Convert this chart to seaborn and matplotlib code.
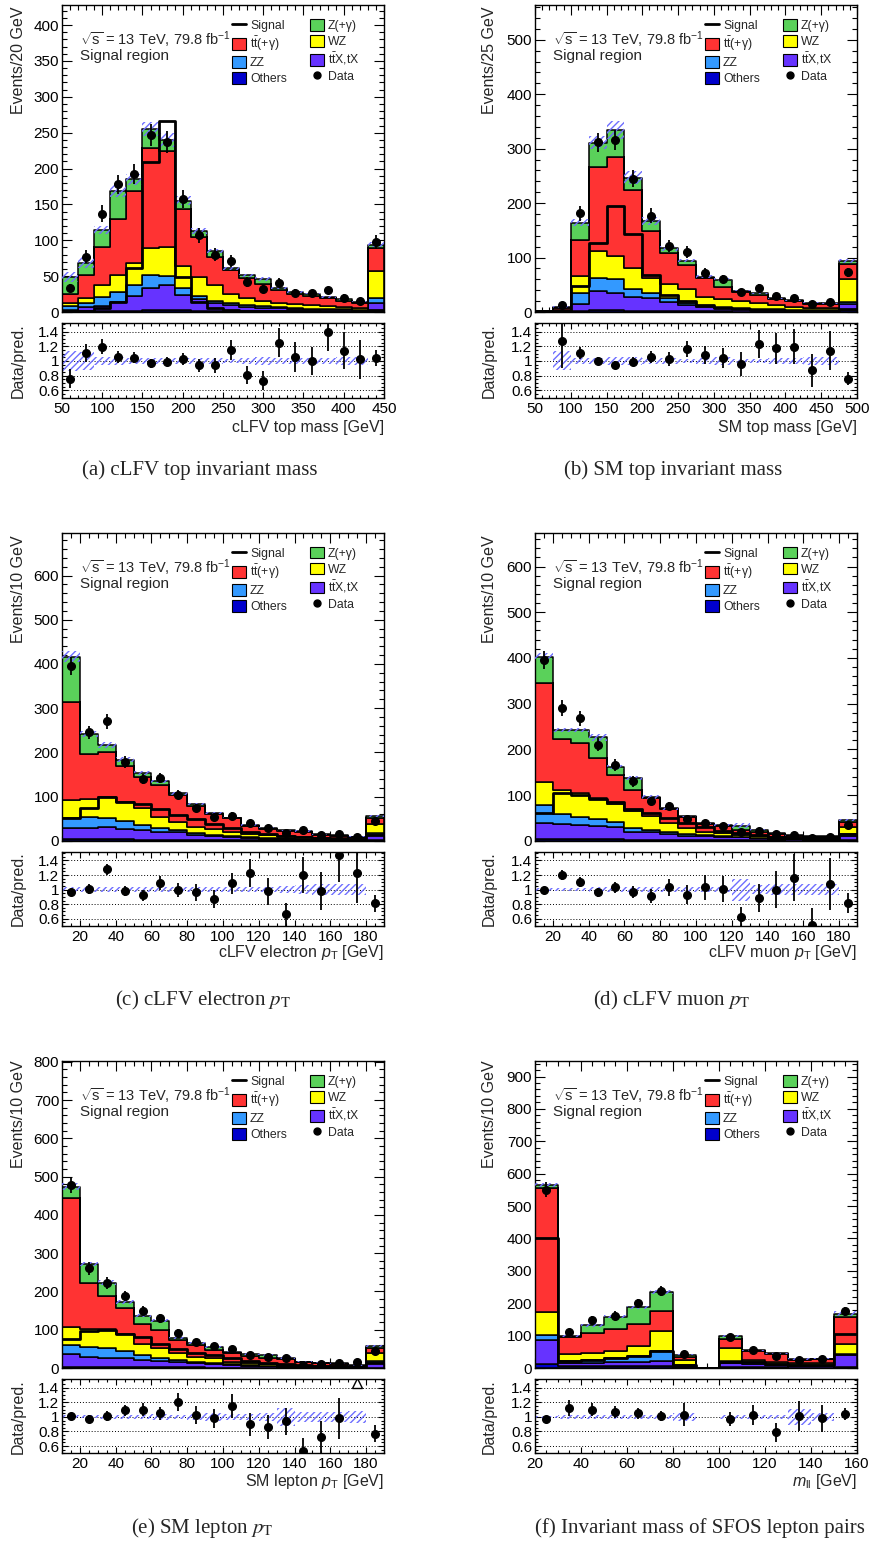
import numpy as np
import pandas as pd
import matplotlib
matplotlib.use("Agg")
import matplotlib.pyplot as plt
import seaborn as sns
from matplotlib.ticker import MultipleLocator, FixedLocator, FixedFormatter
from matplotlib.lines import Line2D
from matplotlib.patches import Patch

sns.set_theme(style="ticks")
plt.rcParams['font.family'] = ['Liberation Sans', 'DejaVu Sans']
plt.rcParams['mathtext.fontset'] = 'custom'
plt.rcParams['mathtext.rm'] = 'Liberation Sans'
plt.rcParams['mathtext.it'] = 'Liberation Sans:italic'
plt.rcParams['mathtext.bf'] = 'Liberation Sans:bold'
plt.rcParams['hatch.linewidth'] = 1.0
plt.rcParams['axes.edgecolor'] = 'black'
plt.rcParams['xtick.color'] = 'black'
plt.rcParams['ytick.color'] = 'black'

# ---------------- components (top of stack first) ----------------
comp_names = ["Z(+γ)", r"$\mathrm{t\bar{t}}$(+γ)", "WZ", "ZZ", r"$\mathrm{t\bar{t}}$X,tX", "Others"]
comp_colors = ["#5ad15a", "#ff3333", "#ffff00", "#3399ff", "#6633ff", "#0000cc"]

# ---------------- (a) cLFV top mass ----------------
edges_a = list(range(50, 451, 20))
zg_a = [24, 18, 23, 39, 17, 27, 15, 11, 9, 8, 2, 3, 7, 2, 2, 2.5, 1.5, 1.5, 1.5, 5]
tt_a = [13, 31, 53, 78, 100, 139, 135, 80, 55, 39, 34, 28, 24, 18.5, 14.5, 13, 11.5, 9, 7.5, 32]
wz_a = [4, 8, 17, 24, 30, 37, 40, 30, 26, 23, 12, 10, 7, 6, 6, 5.5, 4, 3.5, 2.5, 37]
zz_a = [5, 5, 13, 14, 16, 19, 12, 10, 5, 3, 3, 2.5, 2, 1.5, 1, 1, 1, 1, 1, 7]
ttx_a = [2, 6, 6, 12, 20, 30, 35, 21, 16, 10.5, 9, 6.5, 5, 4, 3.2, 2.8, 2.4, 2, 1.5, 12]
oth_a = [1, 1, 2, 2, 2, 3, 3, 3, 2, 1.5, 1, 1, 1, 1, 0.8, 0.7, 0.6, 0.5, 0.5, 1]
sig_a = [1, 2, 5, 14, 62, 209, 266, 49, 14, 5, 3, 2, 1.5, 1, 1, 0.8, 0.6, 0.5, 0.4, 3]
data_a = [33, 77, 137, 178, 193, 247, 237, 158, 107, 80, 71, 42, 32, 41, 27, 26, 30, 20, 15, 98]
ratio_a = [0.76, 1.11, 1.19, 1.05, 1.04, 0.97, 0.99, 1.02, 0.94, 0.94, 1.15, 0.81, 0.73, 1.25, 1.05, 1.00, 1.39, 1.14, 1.02, 1.04]
unc_a = [0.14, 0.12, 0.05, 0.05, 0.04, 0.04, 0.04, 0.04, 0.04, 0.04, 0.03, 0.04, 0.05, 0.04, 0.04, 0.04, 0.04, 0.05, 0.06, 0.04]

# ---------------- (b) SM top mass ----------------
edges_b = list(range(50, 501, 25))
zg_b = [0.5, 1, 32, 44, 50, 23, 18, 8, 8, 3, 12.5, 3, 2, 1, 1.5, 2, 2, 6]
tt_b = [0.7, 5, 66, 155, 182, 143, 87, 58, 44, 34, 23.5, 16, 15, 11, 10, 7, 6, 27]
wz_b = [0.3, 1, 31, 49, 43, 38, 28, 26, 26, 17, 14, 13, 11, 8, 6, 5, 5, 42]
zz_b = [0.2, 0.5, 21, 25, 25, 15, 9, 7, 4, 2, 1.5, 2, 2, 2, 1.5, 1, 1, 5]
ttx_b = [0.3, 1, 12, 34, 32, 26, 23, 16.5, 10.8, 8, 6.5, 4.2, 3.2, 2.4, 2, 1.5, 1.5, 11]
oth_b = [0, 0.5, 2, 4, 3, 2, 2, 1.5, 1.2, 1, 1, 0.8, 0.8, 0.6, 0.5, 0.5, 0.5, 3]
sig_b = [0, 2, 48, 126, 195, 143, 68, 32, 20, 12, 8, 5, 4, 3, 2, 1.5, 1, 6]
data_b = [0, 12, 181, 312, 316, 245, 177, 122, 110, 72, 61, 36, 44, 30, 25, 15, 18, 73]
ratio_b = [np.nan, 1.27, 1.11, 1.00, 0.94, 0.99, 1.05, 1.03, 1.16, 1.08, 1.04, 0.96, 1.23, 1.17, 1.19, 0.87, 1.14, 0.76]
unc_b = [0, 0.13, 0.04, 0.04, 0.05, 0.05, 0.04, 0.04, 0.03, 0.04, 0.05, 0.03, 0.03, 0.04, 0.04, 0.05, 0.05, 0.04]

# ---------------- (c) cLFV electron pT ----------------
edges_c = list(range(10, 191, 10))
zg_c = [103, 45, 17, 13, 9, 8, 4, 3, 2.5, 1, 2, 2.5, 2, 2.4, 2, 2, 1, 5]
tt_c = [221, 102, 101, 82, 72, 72, 60, 47.5, 33.5, 31, 18.8, 15, 12, 10.6, 7, 6, 4, 14]
wz_c = [40, 40, 47, 43, 38, 26, 19, 15, 12.5, 9, 6.4, 6, 5, 5, 3, 2.5, 2, 20.3]
zz_c = [23, 25, 22, 18, 11, 8, 5, 3.5, 3.5, 3, 2.3, 1.5, 1.5, 1, 0.5, 0.5, 0.5, 3.1]
ttx_c = [26, 26, 27, 24, 22, 18, 17, 12, 8.8, 7, 5.2, 3.8, 3, 2.5, 2.1, 1.7, 1.2, 12.6]
oth_c = [3, 3, 3, 3, 2, 2, 2, 1.5, 1.2, 1, 0.8, 0.7, 0.5, 0.5, 0.4, 0.3, 0.3, 1]
sig_c = [52, 73, 100, 88, 82, 71, 58, 48, 38, 29, 20, 15, 10, 8, 6, 4, 3, 14]
data_c = [395, 245, 270, 178, 140, 142, 104, 75, 53, 57, 41, 28, 17, 24, 14, 16, 9, 45]
ratio_c = [0.96, 1.01, 1.28, 0.98, 0.92, 1.09, 0.99, 0.96, 0.87, 1.09, 1.23, 0.98, 0.66, 1.20, 0.98, 1.47, 1.23, 0.81]
unc_c = [0.03, 0.03, 0.03, 0.03, 0.03, 0.03, 0.03, 0.03, 0.03, 0.03, 0.04, 0.04, 0.05, 0.06, 0.07, 0.07, 0.08, 0.05]

# ---------------- (d) cLFV muon pT ----------------
edges_d = list(range(10, 191, 10))
zg_d = [58, 20, 29, 46, 17, 26, 2, 2, 2, 2, 2.5, 9.6, 3.4, 2, 1, 1, 1, 3.4]
tt_d = [216, 111, 109, 86, 64, 45, 40, 31, 24, 17.5, 15, 10.4, 10, 6, 4.5, 4, 4, 11.6]
wz_d = [51, 52.5, 51.4, 47, 38.4, 39, 30, 19.5, 12, 6.5, 6, 4, 4, 3, 2.5, 2, 2, 15]
zz_d = [40, 21.5, 18.6, 15, 12.6, 7, 5.5, 3.5, 4, 2, 2, 1, 1, 1, 1, 0.5, 0.5, 4]
ttx_d = [34, 33, 30, 29, 26, 18, 16.5, 13.5, 9.8, 9, 8, 7.2, 4.4, 3.5, 2.6, 2.2, 2.2, 10]
oth_d = [4, 4, 4, 3, 3, 2, 2, 1.5, 1.2, 1, 1, 0.8, 0.6, 0.5, 0.4, 0.3, 0.3, 1]
sig_d = [60, 104, 100, 92, 85, 70, 60, 50, 39, 30, 22, 16, 12, 9, 7, 5, 4, 14]
data_d = [395, 290, 268, 210, 165, 130, 87, 75, 48, 38, 33, 20, 21, 15, 13, 5, 9, 35]
ratio_d = [0.99, 1.20, 1.11, 0.96, 1.03, 0.97, 0.91, 1.03, 0.93, 1.03, 1.01, 0.62, 0.88, 1.00, 1.16, 0.52, 1.08, 0.82]
unc_d = [0.02, 0.02, 0.02, 0.03, 0.03, 0.03, 0.04, 0.04, 0.03, 0.04, 0.04, 0.15, 0.06, 0.07, 0.07, 0.08, 0.08, 0.05]

# ---------------- (e) SM lepton pT ----------------
edges_e = list(range(10, 191, 10))
zg_e = [31, 48, 35, 17, 22, 25, 5.5, 4.5, 8.7, 4.6, 5.6, 7, 4, 1.5, 2, 2, 1, 6.5]
tt_e = [335, 121, 86, 68, 53, 47, 34, 31, 22, 22, 17, 17, 15, 10, 7.5, 6, 3, 13]
wz_e = [48, 46.3, 51, 43, 29, 25, 17, 13, 11, 5, 6, 4, 3, 2, 2, 1.5, 1, 20]
zz_e = [23.4, 26.1, 24, 20, 11, 8, 5, 4, 3, 3, 2, 1.5, 1.5, 0.5, 0.5, 0.5, 0.5, 5]
ttx_e = [33.6, 26.6, 24, 22, 19.5, 17, 14, 10.5, 9.8, 7, 5.2, 3.8, 2.9, 2.1, 1.6, 1.7, 1.2, 12]
oth_e = [3, 3, 3, 3, 2.5, 2, 2, 1.5, 1.2, 1, 0.8, 0.7, 0.6, 0.4, 0.4, 0.3, 0.3, 1]
sig_e = [76, 96, 100, 90, 82, 62, 50, 40, 33, 25, 18, 14, 10, 7, 5, 4, 3, 12]
data_e = [478, 260, 222, 188, 150, 130, 92, 68, 57, 49, 33, 29, 25, 9, 10, 12, 16, 44]
ratio_e = [1.01, 0.97, 1.01, 1.09, 1.10, 1.05, 1.20, 1.02, 0.98, 1.15, 0.90, 0.86, 0.94, 0.53, 0.72, 0.98, 2.3, 0.77]
unc_e = [0.02, 0.02, 0.03, 0.03, 0.03, 0.04, 0.03, 0.04, 0.05, 0.04, 0.04, 0.05, 0.12, 0.07, 0.07, 0.07, 0.08, 0.05]

# ---------------- (f) m_ll ----------------
edges_f = list(range(20, 161, 10))
zg_f = [10, 1.5, 22.5, 39, 50, 59, 6.9, 0, 7, 2.7, 1.5, 3, 2, 12]
tt_f = [382, 52, 63.5, 66.4, 70, 61.5, 8.5, 0, 29, 27, 27.5, 12, 13, 83]
wz_f = [70, 22.8, 22, 22.6, 31, 62.9, 15.5, 0, 41.3, 7, 6, 5, 5, 30]
zz_f = [15, 6.2, 9, 13, 18, 29.6, 5.5, 0, 6.7, 6, 2, 2, 2, 4]
ttx_f = [76, 10.5, 10, 12, 13, 17, 3, 0, 10, 9, 7, 5.5, 5.5, 35]
oth_f = [12, 5, 5, 5, 5, 5, 2, 0, 4, 3, 2, 1.5, 1.5, 4]
sig_f = [400, 21, 24, 30, 36, 52, 10, 0, 20, 18, 11, 9, 9, 105]
data_f = [550, 110, 147, 162, 200, 238, 42, 0, 96, 56, 38, 24, 27, 175]
ratio_f = [0.97, 1.12, 1.10, 1.07, 1.05, 1.01, 1.03, np.nan, 0.97, 1.02, 0.79, 1.01, 0.98, 1.04]
unc_f = [0.01, 0.03, 0.03, 0.03, 0.03, 0.03, 0.06, 0, 0.03, 0.03, 0.03, 0.11, 0.06, 0.04]

W, H = 870, 1544
fig = plt.figure(figsize=(W / 100, H / 100), dpi=100, facecolor='white')


def rect(x0, x1, ytop, ybot):
    return [x0 / W, 1 - ybot / H, (x1 - x0) / W, (ybot - ytop) / H]


def fpos(x, y):
    return x / W, 1 - y / H


HATCH_COL = '#6e6eff'


def style_axes(ax, major, minor_len):
    ax.tick_params(which='both', direction='in', top=True, right=True, width=0.8,
                   colors='black', labelsize=11)
    ax.tick_params(which='major', length=major)
    ax.tick_params(which='minor', length=minor_len)
    for s in ax.spines.values():
        s.set_linewidth(1.0)
        s.set_color('black')


def panel(col, row, edges, comps, sig, data, ratio, unc, ylim, ymaj, ymin, xmaj, xmin,
          ylab, xlab, caption):
    x0, x1 = [(62, 384), (535, 857)][col]
    main_rows = [(5, 312), (532.7, 840.7), (1061, 1368)]
    rat_rows = [(322.7, 397.7), (851.7, 926), (1379, 1453.3)]
    ax = fig.add_axes(rect(x0, x1, *main_rows[row]))
    axr = fig.add_axes(rect(x0, x1, *rat_rows[row]))

    bins = [float(e) for e in edges]
    edges = np.asarray(bins)
    centers = 0.5 * (edges[:-1] + edges[1:])
    widths = np.diff(edges)
    comps = [np.asarray(c, float) for c in comps]
    total = np.sum(comps, axis=0)
    sig = np.asarray(sig, float)
    data = np.asarray(data, float)
    ratio = np.asarray(ratio, float)
    unc = np.asarray(unc, float)

    rows = []
    for name, vals in zip(comp_names, comps):
        for c, v in zip(centers, vals):
            rows.append((c, v, name))
    df = pd.DataFrame(rows, columns=['x', 'w', 'comp'])
    sns.histplot(data=df, x='x', weights='w', hue='comp', hue_order=comp_names,
                 palette=dict(zip(comp_names, comp_colors)), multiple='stack',
                 bins=bins, element='step', fill=True, alpha=1,
                 edgecolor='black', linewidth=1.1, legend=False, ax=ax)
    # uncertainty band
    m = unc > 0
    ax.bar(centers[m], 2 * unc[m] * total[m], bottom=total[m] * (1 - unc[m]),
           width=widths[m], fill=False, hatch='/////', edgecolor=HATCH_COL,
           linewidth=0, zorder=3)
    # signal
    sdf = pd.DataFrame({'x': centers, 'w': sig})
    sns.histplot(data=sdf, x='x', weights='w', bins=bins, element='step', fill=False,
                 color='black', linewidth=2.0, ax=ax, zorder=4)
    # data
    md = data > 0
    ax.errorbar(centers[md], data[md], yerr=np.sqrt(data[md]), fmt='o', color='black',
                ms=5.5, elinewidth=1.3, capsize=0, zorder=6)
    ax.set_xlim(edges[0], edges[-1])
    ax.set_ylim(0, ylim)
    ax.set_xlabel('')
    ax.set_ylabel('')
    ax.yaxis.set_major_locator(MultipleLocator(ymaj))
    ax.yaxis.set_minor_locator(MultipleLocator(ymin))
    ax.xaxis.set_major_locator(MultipleLocator(xmaj))
    ax.xaxis.set_minor_locator(MultipleLocator(xmin))
    style_axes(ax, 7, 3.5)
    ax.tick_params(labelbottom=False, pad=2)

    ax.text(0.056, 0.886, r"$\sqrt{\mathrm{s}}$ = 13 TeV, 79.8 fb$^{-1}$",
            transform=ax.transAxes, fontsize=10.5, va='center', ha='left')
    ax.text(0.056, 0.834, "Signal region", transform=ax.transAxes, fontsize=11,
            va='center', ha='left')

    handles = [Line2D([], [], color='black', lw=2),
               Patch(facecolor=comp_colors[1], edgecolor='black', lw=0.8),
               Patch(facecolor=comp_colors[3], edgecolor='black', lw=0.8),
               Patch(facecolor=comp_colors[5], edgecolor='black', lw=0.8),
               Patch(facecolor=comp_colors[0], edgecolor='black', lw=0.8),
               Patch(facecolor=comp_colors[2], edgecolor='black', lw=0.8),
               Patch(facecolor=comp_colors[4], edgecolor='black', lw=0.8),
               Line2D([], [], marker='o', color='black', ls='none', ms=5)]
    labels = ["Signal", comp_names[1], comp_names[3], comp_names[5],
              comp_names[0], comp_names[2], comp_names[4], "Data"]
    ax.legend(handles, labels, ncol=2, loc='upper left', bbox_to_anchor=(0.529, 0.955),
              frameon=False, fontsize=8.8, handlelength=1.1, handleheight=1.1,
              handletextpad=0.35, labelspacing=0.25, columnspacing=1.9,
              borderpad=0, borderaxespad=0)

    # ratio panel
    for yv in [0.6, 0.8, 1.0, 1.2, 1.4]:
        axr.axhline(yv, color='black', lw=0.7, ls=(0, (1, 2)), zorder=1)
    mb = unc > 0
    mb[-1] = False
    axr.bar(centers[mb], 2 * unc[mb], bottom=1 - unc[mb], width=widths[mb], fill=False,
            hatch='/////', edgecolor=HATCH_COL, linewidth=0, zorder=2)
    top = 1.52
    ok = np.isfinite(ratio) & (ratio <= top) & (data > 0)
    axr.errorbar(centers[ok], ratio[ok], yerr=ratio[ok] / np.sqrt(data[ok]), fmt='o',
                 color='black', ms=5.5, elinewidth=1.3, capsize=0, zorder=5)
    hi = np.isfinite(ratio) & (ratio > top)
    if hi.any():
        axr.plot(centers[hi], np.full(hi.sum(), 1.46), marker='^', ls='none', ms=7,
                 mfc='white', mec='black', mew=1.0, zorder=5)
    axr.set_xlim(edges[0], edges[-1])
    axr.set_ylim(0.5, top)
    axr.yaxis.set_major_locator(FixedLocator([0.6, 0.8, 1.0, 1.2, 1.4]))
    axr.yaxis.set_major_formatter(FixedFormatter(['0.6', '0.8', '1', '1.2', '1.4']))
    axr.yaxis.set_minor_locator(MultipleLocator(0.05))
    axr.xaxis.set_major_locator(MultipleLocator(xmaj))
    axr.xaxis.set_minor_locator(MultipleLocator(xmin))
    style_axes(axr, 4.5, 2.3)
    axr.tick_params(axis='x', pad=3)
    axr.tick_params(axis='y', pad=2)

    # labels
    lx = [18.5, 489.5][col]
    ytop = [7, 535, 1060][row]
    fig.text(*fpos(lx, ytop), ylab, rotation=90, ha='center', va='top', fontsize=11.5)
    rc = [(322.7 + 397.7) / 2, (851.7 + 926) / 2, (1379 + 1453.3) / 2][row]
    fig.text(*fpos(lx, rc), "Data/pred.", rotation=90, ha='center', va='center',
             fontsize=11.5)
    xb = [432, 957, 1486][row]
    fig.text(*fpos(x1, xb), xlab, ha='right', va='baseline', fontsize=11.5)
    cx = [(200, 673), (203, 672), (202, 700)][row][col]
    cy = [470, 1000, 1528][row]
    fig.text(*fpos(cx, cy), caption, ha='center', va='center', fontsize=15,
             family='Liberation Serif', math_fontfamily='stix')


panel(0, 0, edges_a, [zg_a, tt_a, wz_a, zz_a, ttx_a, oth_a], sig_a, data_a, ratio_a, unc_a,
      428, 50, 10, 50, 10, "Events/20 GeV", "cLFV top mass [GeV]",
      "(a) cLFV top invariant mass")
panel(1, 0, edges_b, [zg_b, tt_b, wz_b, zz_b, ttx_b, oth_b], sig_b, data_b, ratio_b, unc_b,
      564, 100, 20, 50, 10, "Events/25 GeV", "SM top mass [GeV]",
      "(b) SM top invariant mass")
panel(0, 1, edges_c, [zg_c, tt_c, wz_c, zz_c, ttx_c, oth_c], sig_c, data_c, ratio_c, unc_c,
      697, 100, 20, 20, 5, "Events/10 GeV", r"cLFV electron $p_\mathrm{T}$ [GeV]",
      r"(c) cLFV electron $p_\mathrm{T}$")
panel(1, 1, edges_d, [zg_d, tt_d, wz_d, zz_d, ttx_d, oth_d], sig_d, data_d, ratio_d, unc_d,
      674, 100, 20, 20, 5, "Events/10 GeV", r"cLFV muon $p_\mathrm{T}$ [GeV]",
      r"(d) cLFV muon $p_\mathrm{T}$")
panel(0, 2, edges_e, [zg_e, tt_e, wz_e, zz_e, ttx_e, oth_e], sig_e, data_e, ratio_e, unc_e,
      802, 100, 20, 20, 5, "Events/10 GeV", r"SM lepton $p_\mathrm{T}$ [GeV]",
      r"(e) SM lepton $p_\mathrm{T}$")
panel(1, 2, edges_f, [zg_f, tt_f, wz_f, zz_f, ttx_f, oth_f], sig_f, data_f, ratio_f, unc_f,
      948, 100, 20, 20, 5, "Events/10 GeV", r"$m_\mathrm{ll}$ [GeV]",
      "(f) Invariant mass of SFOS lepton pairs")

fig.savefig("out.png", dpi=100, facecolor='white')
